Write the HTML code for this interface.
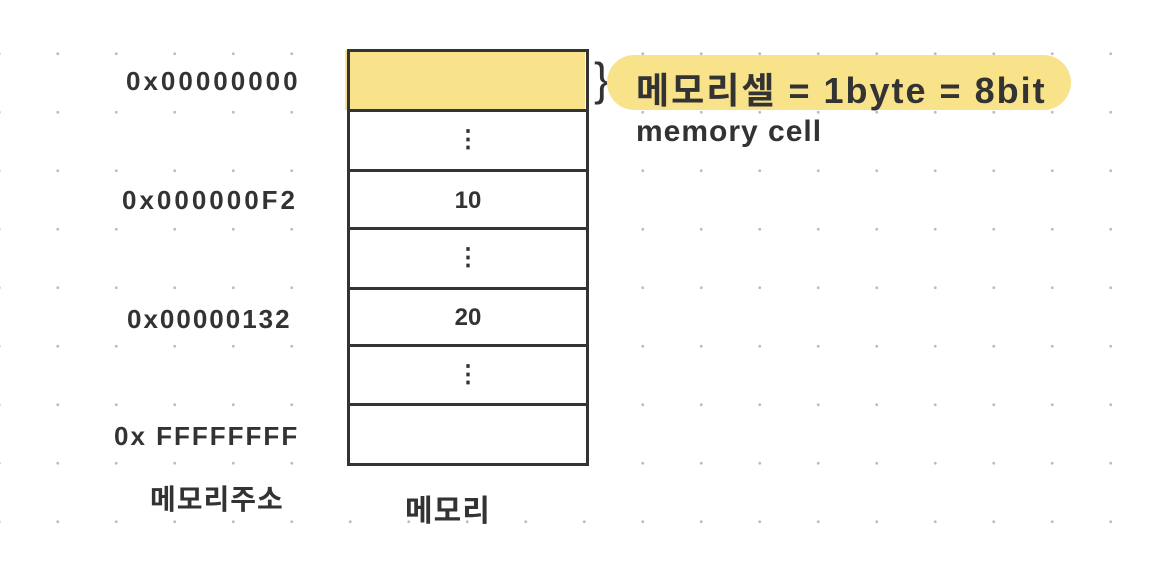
<!DOCTYPE html>
<html><head><meta charset="utf-8"><style>
body{margin:0;width:1163px;height:575px;background:#fff;overflow:hidden;position:relative;font-family:"Liberation Sans","Noto Sans CJK KR",sans-serif;color:#333}
.grid{position:absolute;inset:0;background-image:radial-gradient(circle,#bbb 1.3px,transparent 1.6px);background-size:58.5px 58.5px;background-position:-30px -34px}
.t{position:absolute;font-weight:bold;white-space:nowrap;letter-spacing:1px}
.box{position:absolute;left:347px;top:49px;width:236px;height:411px;border:3px solid #333;background:#fff}
.ln{position:absolute;left:350px;width:236px;height:3px;background:#333}
.c{position:absolute;left:350px;width:236px;text-align:center;font-weight:bold;font-size:24px}
</style></head><body>
<div class="grid"></div>
<div class="box"></div>
<div style="position:absolute;left:345px;top:50px;width:240px;height:60px;background:#f8e28a"></div>
<div class="ln" style="top:109px"></div>
<div class="ln" style="top:169px"></div>
<div class="ln" style="top:227px"></div>
<div class="ln" style="top:287px"></div>
<div class="ln" style="top:344px"></div>
<div class="ln" style="top:403px"></div>
<div style="position:absolute;left:347px;top:49px;width:3px;height:414px;background:#333"></div>
<div style="position:absolute;left:347px;top:49px;width:242px;height:3px;background:#333"></div>
<div class="c" style="top:125px">⋮</div>
<div class="c" style="top:187px">10</div>
<div class="c" style="top:243px">⋮</div>
<div class="c" style="top:304px">20</div>
<div class="c" style="top:360px">⋮</div>
<div class="t" style="left:126px;top:66px;font-size:26px;letter-spacing:3px">0x00000000</div>
<div class="t" style="left:122px;top:185px;font-size:26px;letter-spacing:3px">0x000000F2</div>
<div class="t" style="left:127px;top:304px;font-size:26px;letter-spacing:2px">0x00000132</div>
<div class="t" style="left:114px;top:421px;font-size:26px;letter-spacing:2px">0x FFFFFFFF</div>
<div class="t" style="left:150px;top:478px;font-size:28px">메모리주소</div>
<div class="t" style="left:405px;top:486px;font-size:30px">메모리</div>
<div class="t" style="left:594px;top:52px;font-size:46px;font-weight:normal">}</div>
<div style="position:absolute;left:607px;top:55px;width:464px;height:55px;background:#f8e28a;border-radius:28px"></div>
<div class="t" style="left:636px;top:62px;font-size:36px;letter-spacing:2px">메모리셀 = 1byte = 8bit</div>
<div class="t" style="left:636px;top:115px;font-size:30px;letter-spacing:1px">memory cell</div>
</body></html>
